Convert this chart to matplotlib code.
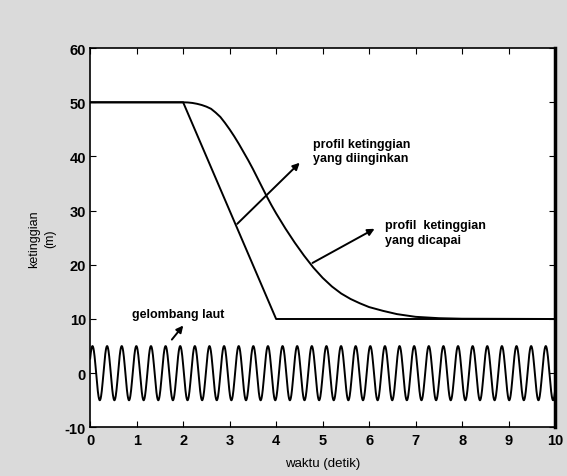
import numpy as np
from matplotlib import pyplot as plt

plt.rcParams['font.family'] = ['Liberation Sans', 'DejaVu Sans']
plt.rcParams['font.weight'] = 'bold'
plt.rcParams['axes.unicode_minus'] = False

# profil ketinggian yang diinginkan (linear)
t_desired = [0, 2, 4, 10]
h_desired = [50, 50, 10, 10]

# profil ketinggian yang dicapai
t_actual = [0, 2.0, 2.1, 2.2, 2.3, 2.4, 2.5, 2.6, 2.7, 2.8, 2.9, 3.0, 3.1, 3.2,
            3.3, 3.4, 3.5, 3.6, 3.7, 3.8, 3.9, 4.0, 4.2, 4.4, 4.6, 4.8, 5.0,
            5.2, 5.4, 5.6, 5.8, 6.0, 6.3, 6.6, 7.0, 7.5, 8.0, 10]
h_actual = [50, 50.0, 49.97, 49.88, 49.72, 49.5, 49.2, 48.8, 48.1, 47.3, 46.2,
            45.0, 43.7, 42.3, 40.8, 39.3, 37.7, 36.0, 34.3, 32.6, 31.0, 29.5,
            26.7, 24.1, 21.7, 19.5, 17.6, 16.0, 14.7, 13.7, 12.9, 12.2, 11.5,
            10.9, 10.4, 10.15, 10.05, 10.0]

# gelombang laut: amplitude, period and first crest
wave_amp = 5.0
wave_period = 0.3145
wave_crest = 0.05

x_ticks = [0, 1, 2, 3, 4, 5, 6, 7, 8, 9, 10]
y_ticks = [-10, 0, 10, 20, 30, 40, 50, 60]

fig = plt.figure(figsize=(5.67, 4.77), dpi=100, facecolor='#dadada')
ax = fig.add_axes([0.159, 0.102, 0.820, 0.795])

t_wave = np.linspace(0, 10, 2000)
h_wave = wave_amp * np.cos(2 * np.pi * (t_wave - wave_crest) / wave_period)

ax.plot(t_wave, h_wave, color='black', lw=1.4)
ax.plot(t_desired, h_desired, color='black', lw=1.4)
ax.plot(t_actual, h_actual, color='black', lw=1.4)

ax.set_xlim(0, 10)
ax.set_ylim(-10, 60)
ax.set_xticks(x_ticks)
ax.set_yticks(y_ticks)
ax.tick_params(direction='in', top=True, right=True, length=4, labelsize=10.5)
ax.tick_params(axis='x', pad=4)
ax.tick_params(axis='y', pad=3)
for s in ax.spines.values():
    s.set_linewidth(1.2)
ax.spines['right'].set_linewidth(2.5)

ax.set_xlabel('waktu (detik)', fontsize=9.5, labelpad=7)
ax.set_ylabel('ketinggian\n(m)', fontsize=9, labelpad=6, linespacing=1.5)

ann = dict(arrowstyle='-|>', color='black', lw=1.4, mutation_scale=10)
ax.annotate('', xy=(4.55, 39.2), xytext=(3.12, 27.2), arrowprops=ann)
ax.text(4.8, 41.0, 'profil ketinggian\nyang diinginkan', fontsize=9,
        va='center', ha='left', linespacing=1.3)

ax.annotate('', xy=(6.17, 26.9), xytext=(4.73, 20.1), arrowprops=ann)
ax.text(6.34, 26.0, 'profil  ketinggian\nyang dicapai', fontsize=9,
        va='center', ha='left', linespacing=1.3)

ax.annotate('', xy=(2.04, 9.2), xytext=(1.72, 5.8), arrowprops=ann)
ax.text(0.9, 11.0, 'gelombang laut', fontsize=9, va='center', ha='left')

fig.savefig('out.png', dpi=100, facecolor=fig.get_facecolor())
